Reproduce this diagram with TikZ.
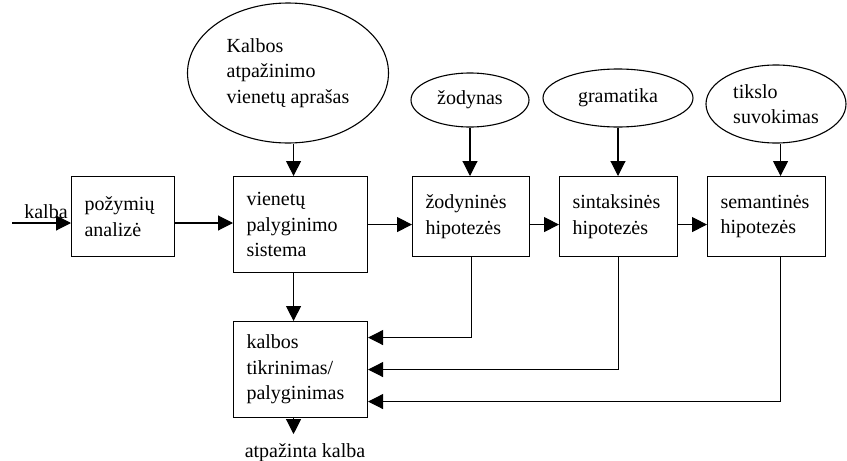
\documentclass[tikz,border=0pt]{standalone}
\usepackage{fontspec}
\setmainfont{Liberation Serif}
\usetikzlibrary{shapes.geometric,arrows.meta}
\begin{document}
\begin{tikzpicture}[x=1pt,y=-1pt,
  every node/.style={font=\fontsize{20}{25.5}\selectfont},
  box/.style={draw,line width=1.1pt,rectangle,align=left,anchor=north west,inner xsep=13pt,inner ysep=0pt},
  ell/.style={draw,ellipse,line width=1.1pt,align=left,inner sep=0pt},
  arr/.style={line width=1.1pt,-{Triangle[length=15pt,width=15pt]}}]
\useasboundingbox (0,0) rectangle (847,461);
% boxes
\node[box,minimum width=103pt,minimum height=80pt,text width=77pt] (poz) at (71,176) {požymių\\analizė};
\node[box,minimum width=134pt,minimum height=96pt,text width=108pt] (vie) at (233,176) {vienetų\\palyginimo\\sistema};
\node[box,minimum width=117pt,minimum height=80pt,text width=91pt] (zod) at (412,176) {žodyninės\\hipotezės};
\node[box,minimum width=118pt,minimum height=80pt,text width=92pt] (sin) at (559,176) {sintaksinės\\hipotezės};
\node[box,minimum width=118pt,minimum height=80pt,text width=92pt] (sem) at (707,176) {semantinės\\hipotezės};
\node[box,minimum width=134pt,minimum height=96pt,text width=108pt] (kt) at (233,321) {kalbos\\tikrinimas/\\palyginimas};
% ellipses
\node[ell,minimum width=201pt,minimum height=140pt] (ekal) at (288,73) {Kalbos\\atpažinimo\\vienetų aprašas};
\node[ell,minimum width=118pt,minimum height=54pt] (ezod) at (470,100) {žodynas};
\node[ell,minimum width=150pt,minimum height=58pt] (egra) at (618,98) {gramatika};
\node[ell,minimum width=140pt,minimum height=78pt] (etik) at (776,104) {tikslo\\suvokimas};
% texts
\node[anchor=base] (kalba) at (46,218) {kalba};
\node[anchor=base] (out) at (305,457) {atpažinta kalba};
% connectors
\coordinate (kin) at (12,223);
\coordinate (vx) at ([xshift=-7pt]vie.south);
\coordinate (semx) at ([xshift=14pt]sem.south);
\coordinate (kout) at (kt.south -| vx);
\coordinate (kend) at ([yshift=-16pt]kout);
\draw[arr] (kin) -- (kin -| poz.west);
\draw[arr] (poz.east |- kin) -- (kin -| vie.west);
\draw[arr] (vie.east) -- (vie.east -| zod.west);
\draw[arr] (zod.east |- vie.east) -- (vie.east -| sin.west);
\draw[arr] (sin.east |- vie.east) -- (vie.east -| sem.west);
\draw[arr] (ekal.south -| vx) -- (vx |- vie.north);
\draw[arr] (ezod.south) -- (ezod.south |- zod.north);
\draw[arr] (egra.south) -- (egra.south |- sin.north);
\draw[arr] (etik.south -| semx) -- (semx |- sem.north);
\draw[arr] (vx) -- (vx |- kt.north);
\draw[arr] (zod.south) |- ([yshift=32pt]kt.east);
\draw[arr] (sin.south) |- (kt.east);
\draw[arr] (semx) |- ([yshift=-32pt]kt.east);
\draw[arr] (kout) -- (kend);
\end{tikzpicture}
\end{document}
